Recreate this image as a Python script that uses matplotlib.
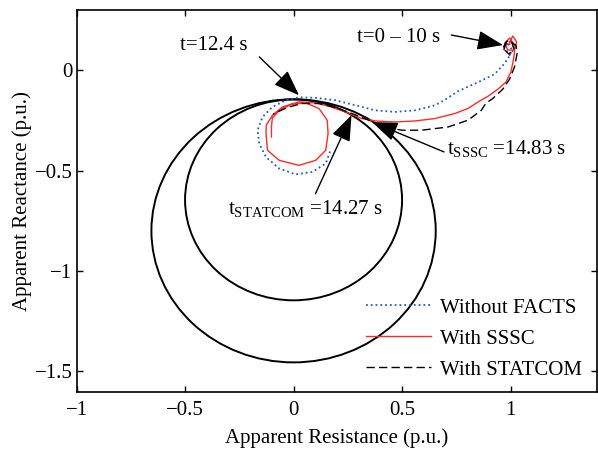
import matplotlib
matplotlib.use('Agg')
import matplotlib.pyplot as plt
from matplotlib.patches import Circle

plt.rcParams['font.family'] = ['Liberation Serif', 'DejaVu Serif']
plt.rcParams['mathtext.fontset'] = 'custom'
plt.rcParams['mathtext.rm'] = 'Liberation Serif'
plt.rcParams['mathtext.it'] = 'Liberation Serif:italic'

# impedance trajectories (R, X)
r_none = [0.978, 1.005, 1.019, 0.996, 0.969, 0.992, 1.005, 0.995, 0.972, 0.926, 0.850, 0.758,
          0.694, 0.651, 0.560, 0.468, 0.377, 0.285, 0.193, 0.102, 0.025, -0.036, -0.097,
          -0.143, -0.166, -0.158, -0.127, -0.066, 0.010, 0.086, 0.148, 0.170]
x_none = [0.125, 0.150, 0.110, 0.075, 0.115, 0.140, 0.100, 0.070, 0.033, -0.020, -0.060, -0.105,
          -0.150, -0.175, -0.200, -0.208, -0.200, -0.175, -0.150, -0.138, -0.135, -0.150, -0.183,
          -0.233, -0.299, -0.366, -0.433, -0.490, -0.519, -0.507, -0.465, -0.399]

r_sssc = [0.990, 1.010, 1.028, 1.015, 0.987, 0.973, 0.996, 1.019, 1.018, 1.010, 1.001, 0.978,
          0.941, 0.896, 0.863, 0.803, 0.743, 0.651, 0.560, 0.468, 0.377, 0.315, 0.239, 0.163,
          0.102, 0.025, -0.051, -0.097, -0.126, -0.127, -0.120, -0.066, 0.025, 0.102, 0.148,
          0.159, 0.155, 0.117, 0.056, -0.011, -0.066, -0.098, -0.102, -0.102]
x_sssc = [0.125, 0.170, 0.140, 0.100, 0.100, 0.135, 0.160, 0.120, 0.083, 0.035, -0.010, -0.060,
          -0.095, -0.130, -0.150, -0.191, -0.216, -0.241, -0.253, -0.258, -0.253, -0.241, -0.208,
          -0.180, -0.163, -0.158, -0.183, -0.224, -0.274, -0.316, -0.399, -0.449, -0.474, -0.449,
          -0.399, -0.316, -0.249, -0.191, -0.163, -0.170, -0.200, -0.239, -0.283, -0.333]

r_statcom = [0.969, 0.978, 1.005, 1.015, 0.992, 0.964, 0.983, 1.015, 1.025, 1.030, 1.018, 0.995,
             0.964, 0.918, 0.886, 0.865, 0.804, 0.712, 0.590, 0.498, 0.422, 0.346, 0.269, 0.193,
             0.117, 0.040, -0.021, -0.074, -0.094]
x_statcom = [0.100, 0.135, 0.140, 0.105, 0.080, 0.110, 0.145, 0.130, 0.125, 0.083, 0.016, -0.045,
             -0.095, -0.141, -0.165, -0.200, -0.249, -0.283, -0.299, -0.299, -0.283, -0.249, -0.216,
             -0.186, -0.166, -0.166, -0.183, -0.208, -0.219]

# mho relay zones: centre (R, X) and radius
zone_centres = [(0.0, -0.80), (0.0, -0.646)]
zone_radii = [0.655, 0.50]

fig = plt.figure(figsize=(5.98, 4.5), dpi=100)
ax = fig.add_axes([0.128, 0.13, 0.871, 0.848])

for c, rad in zip(zone_centres, zone_radii):
    ax.add_patch(Circle(c, rad, fill=False, edgecolor='k', lw=1.4))

ax.plot(r_none, x_none, ':', color='#2a5db5', lw=1.3, label='Without FACTS')
ax.plot(r_sssc, x_sssc, '-', color='#ff2a2a', lw=1.0, label='With SSSC')
ax.plot(r_statcom, x_statcom, '--', color='k', lw=1.0, label='With STATCOM', dashes=(6, 3))

arrow = dict(arrowstyle='-|>,head_length=0.8,head_width=0.3', color='k', lw=1.0,
             mutation_scale=20, shrinkA=0, shrinkB=0)
ax.annotate('', xy=(0.965, 0.125), xytext=(0.727, 0.175), arrowprops=arrow)
ax.annotate('', xy=(0.025, -0.125), xytext=(-0.158, 0.066), arrowprops=arrow)
ax.annotate('', xy=(0.361, -0.258), xytext=(0.693, -0.407), arrowprops=arrow)
ax.annotate('', xy=(0.267, -0.224), xytext=(0.101, -0.615), arrowprops=arrow)

fs = 15
ax.text(0.486, 0.165, 't=0 – 10 s', fontsize=fs, ha='center', va='center')
ax.text(-0.368, 0.125, 't=12.4 s', fontsize=fs, ha='center', va='center')
ax.text(0.708, -0.389, r'$\mathrm{t_{SSSC}}$ =14.83 s', fontsize=fs, ha='left', va='center')
ax.text(-0.301, -0.688, r'$\mathrm{t_{STATCOM}}$ =14.27 s', fontsize=fs, ha='left', va='center')

ax.set_xlim(-1, 1.4)
ax.set_ylim(-1.6, 0.3)
ax.set_xticks([-1, -0.5, 0, 0.5, 1])
ax.set_xticklabels(['−1', '−0.5', '0', '0.5', '1'])
ax.set_yticks([-1.5, -1, -0.5, 0])
ax.set_yticklabels(['−1.5', '−1', '−0.5', '0'])
ax.tick_params(direction='in', top=True, right=True, length=4, width=1, labelsize=fs)
ax.tick_params(axis='x', pad=7)
ax.tick_params(axis='y', pad=3)
for s in ax.spines.values():
    s.set_linewidth(1.2)

ax.set_xlabel('Apparent Resistance (p.u.)', fontsize=fs, labelpad=6)
ax.set_ylabel('Apparent Reactance (p.u.)', fontsize=fs, labelpad=2)

ax.legend(loc='lower right', frameon=False, fontsize=fs, handlelength=3.1,
          handletextpad=0.43, labelspacing=0.55, bbox_to_anchor=(1.006, -0.018))

fig.savefig('out.png', dpi=100)
